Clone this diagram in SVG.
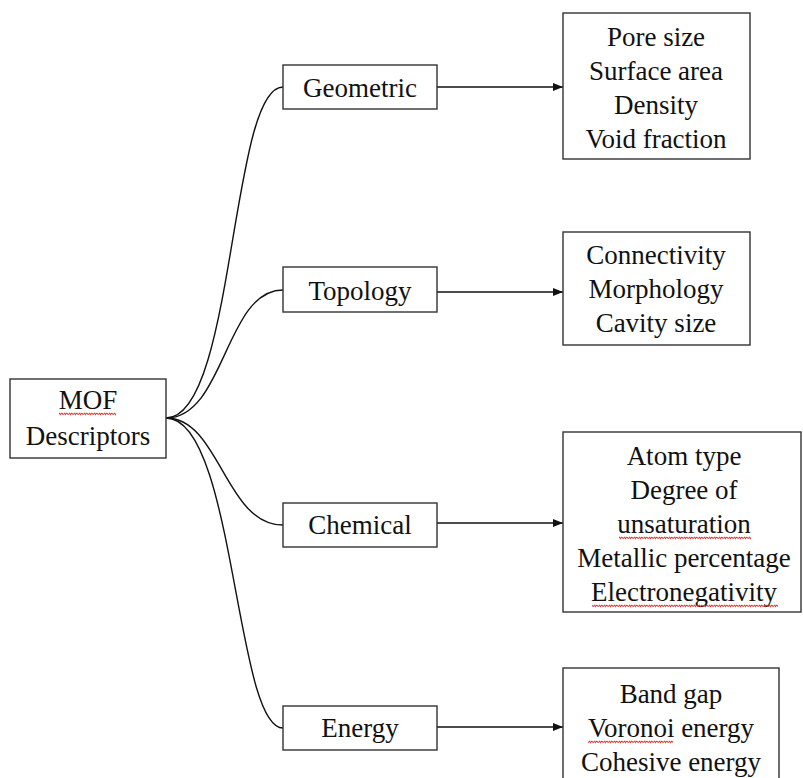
<svg xmlns="http://www.w3.org/2000/svg" width="803" height="778" viewBox="0 0 803 778">
<defs>
<style>
.box{fill:#fff;stroke:#333;stroke-width:1.4}
.t{font-family:"Liberation Serif","Times New Roman",serif;font-size:27px;fill:#111;text-anchor:middle}
.c{fill:none;stroke:#111;stroke-width:1.4}
</style>
<marker id="ah" markerWidth="10" markerHeight="8" refX="10" refY="4" orient="auto" markerUnits="userSpaceOnUse">
<path d="M0,0 L10,4 L0,8 Z" fill="#111"/>
</marker>
<pattern id="sq" width="5" height="4" patternUnits="userSpaceOnUse">
<path d="M0,3.2 Q1.25,0.4 2.5,1.8 T5,0.8" fill="none" stroke="#d33" stroke-width="1.1"/>
</pattern>
</defs>
<g id="connectors">
<path class="c" d="M166,418 C235,418 230,87 283,87"/>
<path class="c" d="M166,418 C225,418 225,290 283,290"/>
<path class="c" d="M166,418 C220,418 225,525 283,525"/>
<path class="c" d="M166,418 C235,418 235,728 283,728"/>
<line class="c" x1="437" y1="87" x2="563" y2="87" marker-end="url(#ah)"/>
<line class="c" x1="437" y1="292" x2="563" y2="292" marker-end="url(#ah)"/>
<line class="c" x1="437" y1="523" x2="563" y2="523" marker-end="url(#ah)"/>
<line class="c" x1="437" y1="727" x2="563" y2="727" marker-end="url(#ah)"/>
</g>
<g id="mof">
<rect class="box" x="10" y="379" width="156" height="79"/>
<text class="t" x="88" y="409">MOF</text>
<text class="t" x="88" y="445">Descriptors</text>
<rect x="59" y="412" width="57" height="4" fill="url(#sq)"/>
</g>
<g id="geometric">
<rect class="box" x="283" y="65" width="154" height="44"/>
<text class="t" x="360" y="97">Geometric</text>
</g>
<g id="topology">
<rect class="box" x="283" y="267" width="154" height="45"/>
<text class="t" x="360" y="300">Topology</text>
</g>
<g id="chemical">
<rect class="box" x="283" y="503" width="154" height="44"/>
<text class="t" x="360" y="534">Chemical</text>
</g>
<g id="energy">
<rect class="box" x="283" y="706" width="154" height="44"/>
<text class="t" x="360" y="737">Energy</text>
</g>
<g id="geometric-list">
<rect class="box" x="563" y="13" width="187" height="146"/>
<text class="t" x="656" y="46">Pore size</text>
<text class="t" x="656" y="80">Surface area</text>
<text class="t" x="656" y="114">Density</text>
<text class="t" x="656" y="148">Void fraction</text>
</g>
<g id="topology-list">
<rect class="box" x="563" y="232" width="187" height="113"/>
<text class="t" x="656" y="264">Connectivity</text>
<text class="t" x="656" y="298">Morphology</text>
<text class="t" x="656" y="332">Cavity size</text>
</g>
<g id="chemical-list">
<rect class="box" x="563" y="432" width="238" height="180"/>
<text class="t" x="684" y="465">Atom type</text>
<text class="t" x="684" y="499">Degree of</text>
<text class="t" x="684" y="533">unsaturation</text>
<text class="t" x="684" y="567">Metallic percentage</text>
<text class="t" x="684" y="601">Electronegativity</text>
<rect x="619" y="536" width="132" height="4" fill="url(#sq)"/>
<rect x="592" y="604" width="186" height="4" fill="url(#sq)"/>
</g>
<g id="energy-list">
<rect class="box" x="563" y="668" width="216" height="120"/>
<text class="t" x="671" y="703">Band gap</text>
<text class="t" x="671" y="737">Voronoi energy</text>
<text class="t" x="671" y="771">Cohesive energy</text>
<rect x="588" y="740" width="85" height="4" fill="url(#sq)"/>
</g>
</svg>
